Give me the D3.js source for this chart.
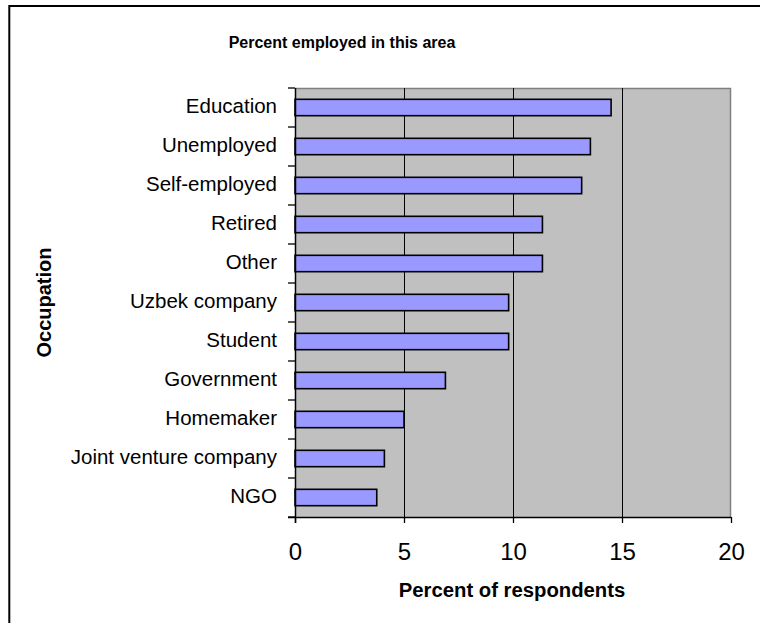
<!DOCTYPE html>
<html>
<head>
<meta charset="utf-8">
<script src="https://cdn.jsdelivr.net/npm/d3@7/dist/d3.min.js"></script>
<style>
  html, body { margin: 0; padding: 0; background: #fff; }
  svg { display: block; font-family: "Liberation Sans", Arial, sans-serif; }
</style>
</head>
<body>
<svg id="chart" width="760" height="623"></svg>
<script>
// Occupations, listed top to bottom
const categories = [
  "Education", "Unemployed", "Self-employed", "Retired", "Other",
  "Uzbek company", "Student", "Government", "Homemaker",
  "Joint venture company", "NGO"
];
// Share of respondents in each occupation (%)
const percents = [14.5, 13.55, 13.15, 11.35, 11.35, 9.8, 9.8, 6.9, 5.0, 4.1, 3.75];
// Values along the horizontal axis
const xTicks = [0, 5, 10, 15, 20];

const titleText = "Percent employed in this area";
const xTitleText = "Percent of respondents";
const yTitleText = "Occupation";

const data = categories.map((c, i) => ({ name: c, value: percents[i] }));

const svg = d3.select("#chart");
const plot = { left: 295, top: 88, right: 731, bottom: 517 };

// outer chart frame (only its top and left edges fall inside the page)
svg.append("path")
  .attr("d", "M9.3,623 V6 H760")
  .attr("fill", "none").attr("stroke", "#000").attr("stroke-width", 2);

const x = d3.scaleLinear().domain([0, 20]).range([plot.left, plot.right]);
const y = d3.scaleBand().domain(categories)
  .range([plot.top, plot.bottom]).paddingInner(0.58).paddingOuter(0.29);

// plot background
svg.append("rect")
  .attr("x", plot.left).attr("y", plot.top)
  .attr("width", plot.right - plot.left).attr("height", plot.bottom - plot.top)
  .attr("fill", "#C0C0C0");
// grey plot border on top and right
svg.append("path")
  .attr("d", `M${plot.left},${plot.top + 0.5} H${plot.right - 0.5} V${plot.bottom}`)
  .attr("fill", "none").attr("stroke", "#808080").attr("stroke-width", 1.5);

// vertical gridlines
svg.append("g").selectAll("line")
  .data(xTicks.filter(t => t > 0 && t < 20))
  .join("line")
  .attr("x1", d => Math.round(x(d)) + 0.5).attr("x2", d => Math.round(x(d)) + 0.5)
  .attr("y1", plot.top).attr("y2", plot.bottom)
  .attr("stroke", "#000").attr("stroke-width", 1);

// bars
svg.append("g").selectAll("rect")
  .data(data)
  .join("rect")
  .attr("x", x(0))
  .attr("y", d => y(d.name))
  .attr("width", d => x(d.value) - x(0))
  .attr("height", y.bandwidth())
  .attr("fill", "#9999FF")
  .attr("stroke", "#000").attr("stroke-width", 1.6);

// x axis
const xAxis = d3.axisBottom(x).tickValues(xTicks).tickSize(6).tickPadding(20).tickSizeOuter(0);
const gx = svg.append("g").attr("transform", `translate(0,${plot.bottom})`).call(xAxis);
gx.select(".domain").attr("stroke", "#000").attr("stroke-width", 1.5)
  .attr("d", `M${plot.left - 7},0.5H${plot.right}`);
gx.selectAll(".tick line").attr("stroke", "#000").attr("stroke-width", 1.3);
gx.selectAll(".tick text").attr("font-size", 24).attr("fill", "#000")
  .attr("font-family", "'Liberation Sans', Arial, sans-serif");

// y axis: category labels at band centres, tick marks at band edges
const yAxis = d3.axisLeft(y).tickSize(0).tickPadding(18);
const gy = svg.append("g").attr("transform", `translate(${plot.left},0)`).call(yAxis);
gy.select(".domain").attr("stroke", "#000").attr("stroke-width", 1.5)
  .attr("d", `M0.5,${plot.top}V${plot.bottom + 6}`);
gy.selectAll(".tick text").attr("font-size", 20.5).attr("fill", "#000")
  .attr("dy", "0.32em")
  .attr("font-family", "'Liberation Sans', Arial, sans-serif");
gy.selectAll(".tick").attr("transform", d => `translate(0,${y(d) + y.bandwidth() / 2 - 1.5})`);

const edges = d3.range(categories.length + 1).map(i => plot.top + i * y.step());
gy.append("g").selectAll("line")
  .data(edges)
  .join("line")
  .attr("x1", -7).attr("x2", 0)
  .attr("y1", d => d).attr("y2", d => d)
  .attr("stroke", "#000").attr("stroke-width", 1.3);

// titles
svg.append("text")
  .attr("x", 342).attr("y", 48)
  .attr("text-anchor", "middle")
  .attr("font-weight", "bold").attr("font-size", 16)
  .text(titleText);

svg.append("text")
  .attr("x", 512).attr("y", 597)
  .attr("text-anchor", "middle")
  .attr("font-weight", "bold").attr("font-size", 20.3)
  .text(xTitleText);

svg.append("text")
  .attr("transform", `translate(51,${(plot.top + plot.bottom) / 2}) rotate(-90)`)
  .attr("text-anchor", "middle")
  .attr("font-weight", "bold").attr("font-size", 20)
  .text(yTitleText);
</script>
</body>
</html>
